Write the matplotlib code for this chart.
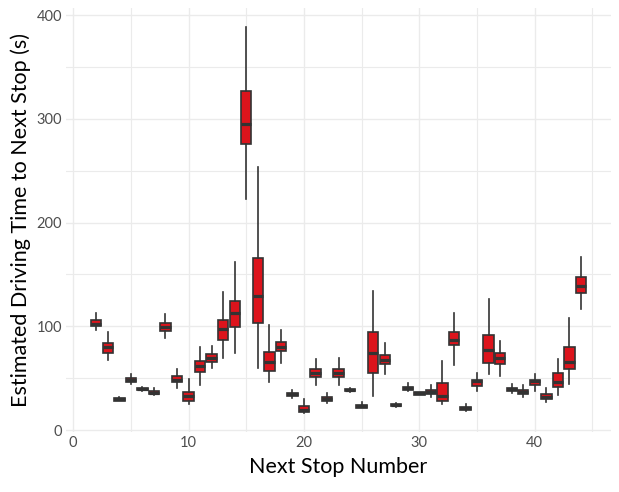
import matplotlib
matplotlib.use("Agg")
import matplotlib.pyplot as plt
from matplotlib.ticker import MultipleLocator

# stop numbers and box summaries (seconds)
stops = list(range(2, 45))
whislo = [96.4, 67.5, 28.0, 44.6, 38.0, 33.7, 89.0, 40.8, 25.4, 43.7,
          60.1, 69.7, 74.5, 223.0, 59.4, 46.6, 64.9, 31.2, 16.7, 43.7,
          26.3, 43.7, 36.8, 20.9, 33.1, 54.3, 22.4, 37.9, 33.5, 32.1,
          24.7, 63.0, 18.0, 37.9, 53.7, 52.3, 36.0, 32.1, 37.9, 27.3,
          34.0, 44.6, 116.3]
q1 = [100.6, 74.5, 28.3, 46.3, 38.2, 34.7, 95.7, 46.6, 28.3, 56.2,
      65.9, 87.0, 99.6, 275.4, 103.1, 56.6, 75.8, 33.1, 17.7, 50.8,
      28.3, 50.8, 37.3, 21.5, 54.6, 63.3, 22.8, 38.9, 34.2, 35.0,
      27.6, 81.6, 19.6, 42.7, 64.9, 63.9, 37.6, 35.0, 43.7, 30.2,
      41.1, 58.5, 131.8]
med = [102.2, 79.7, 29.6, 48.2, 39.5, 36.0, 99.3, 48.2, 33.1, 61.4,
       69.4, 97.0, 112.4, 294.6, 128.9, 65.5, 80.3, 34.4, 19.6, 54.9,
       29.9, 54.6, 38.5, 23.0, 73.9, 67.8, 24.0, 40.2, 35.3, 36.9,
       32.8, 86.7, 21.0, 46.9, 76.8, 69.4, 39.2, 36.6, 46.9, 32.1,
       45.9, 65.9, 138.5]
q3 = [105.7, 83.5, 30.8, 50.4, 40.5, 37.6, 103.1, 52.0, 36.6, 66.5,
      73.3, 105.7, 124.0, 326.4, 165.5, 74.9, 84.5, 35.3, 23.1, 58.8,
      31.8, 58.8, 39.5, 24.4, 94.5, 72.0, 25.1, 41.4, 36.5, 38.5,
      45.3, 94.5, 22.5, 48.2, 91.6, 73.9, 40.5, 38.5, 48.2, 34.4,
      54.6, 80.0, 147.2]
whishi = [112.8, 94.5, 31.8, 54.0, 41.0, 40.5, 111.8, 59.1, 49.5, 80.0,
          80.7, 133.0, 161.9, 388.4, 253.5, 100.9, 96.4, 38.2, 29.5, 68.4,
          35.3, 69.4, 40.5, 26.7, 134.0, 83.5, 25.6, 45.3, 37.0, 43.0,
          66.5, 112.8, 25.1, 54.9, 126.3, 85.8, 44.3, 43.0, 54.3, 40.5,
          68.4, 108.0, 166.7]

FILL = "#DC141C"
EDGE = "#333333"
GRID = "#EBEBEB"

plt.rcParams["font.family"] = ["Lato", "DejaVu Sans"]

fig = plt.figure(figsize=(6.19, 4.92), dpi=100)
ax = fig.add_axes([0.107, 0.122, 0.880, 0.862])

stats = [dict(whislo=a, q1=b, med=c, q3=d, whishi=e, fliers=[])
         for a, b, c, d, e in zip(whislo, q1, med, q3, whishi)]
ax.bxp(stats, positions=stops, widths=0.9, patch_artist=True,
       showcaps=False, showfliers=False,
       boxprops=dict(facecolor=FILL, edgecolor=EDGE, linewidth=1.2),
       medianprops=dict(color=EDGE, linewidth=2.3, solid_capstyle="butt"),
       whiskerprops=dict(color=EDGE, linewidth=1.2),
       manage_ticks=False, zorder=3)

ax.set_xlim(-0.6, 46.6)
ax.set_ylim(-1.9, 407)
ax.xaxis.set_major_locator(MultipleLocator(10))
ax.xaxis.set_minor_locator(MultipleLocator(5))
ax.yaxis.set_major_locator(MultipleLocator(100))
ax.yaxis.set_minor_locator(MultipleLocator(50))

ax.grid(True, which="major", color=GRID, linewidth=1.0, zorder=0)
ax.grid(True, which="minor", color=GRID, linewidth=0.8, zorder=0)
ax.set_axisbelow(True)
for s in ax.spines.values():
    s.set_visible(False)
ax.tick_params(which="both", length=0, labelsize=10.5, labelcolor="#4D4D4D", pad=3)

ax.set_xlabel("Next Stop Number", fontsize=15.5, color="black", labelpad=5)
ax.set_ylabel("Estimated Driving Time to Next Stop (s)", fontsize=15.5,
              color="black", labelpad=4)

fig.savefig("out.png", dpi=100)
